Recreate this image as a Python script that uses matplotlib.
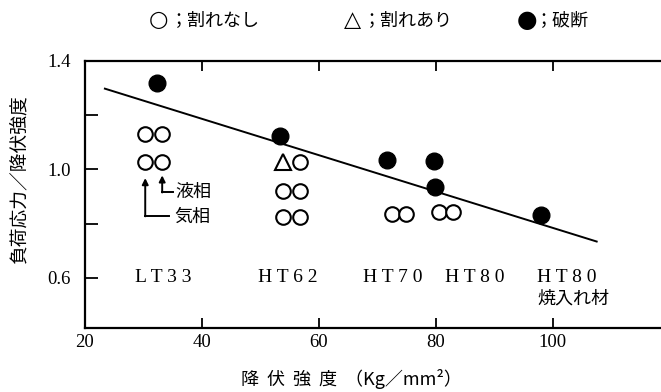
import matplotlib
matplotlib.use("Agg")
import matplotlib.pyplot as plt

# ---- data ----
# open circles : no cracking
none_x = [30.3, 33.2, 30.3, 33.2, 56.8, 53.8, 56.8, 53.8, 56.8, 72.5, 74.9, 80.5, 82.9]
none_y = [1.131, 1.131, 1.028, 1.028, 1.028, 0.922, 0.922, 0.823, 0.823, 0.837, 0.837, 0.844, 0.844]
# triangle : cracked
crack_x = [53.8]
crack_y = [1.028]
# filled circles : fracture
frac_x = [32.3, 53.3, 71.6, 79.7, 79.8, 97.9]
frac_y = [1.32, 1.124, 1.035, 1.032, 0.936, 0.833]
# regression line
line_x = [23.4, 107.5]
line_y = [1.298, 0.734]

steel_names = ["L T 3 3", "H T 6 2", "H T 7 0", "H T 8 0", "H T 8 0"]
steel_notes = ["", "", "", "", "焼入れ材"]
steel_x = [33.3, 54.7, 72.6, 86.7, 102.4]
steel_y = 0.60

xticks = [20, 40, 60, 80, 100]
xticklabels = ["20", "40", "60", "80", "100"]
yticks = [0.6, 0.8, 1.0, 1.2, 1.4]
yticklabels = ["0.6", "", "1.0", "", "1.4"]

jp = ["Noto Sans CJK JP", "DejaVu Sans"]
serif = "Liberation Serif"

fig = plt.figure(figsize=(6.61, 3.92), dpi=100)
ax = fig.add_axes([85/661, 1-328/392, 1-85/661, (328-61)/392])
ax.set_xlim(20, 118.5)
ax.set_ylim(0.415, 1.4)

ax.plot(line_x, line_y, color="black", lw=1.4, zorder=2)
ax.plot(none_x, none_y, ls="none", marker="o", ms=10.5, mfc="white",
        mec="black", mew=1.5, zorder=3)
ax.plot(crack_x, crack_y, ls="none", marker="^", ms=11, mfc="white",
        mec="black", mew=1.5, zorder=3)
ax.plot(frac_x, frac_y, ls="none", marker="o", ms=12, mfc="black",
        mec="black", zorder=4)

for name, note, x in zip(steel_names, steel_notes, steel_x):
    ax.text(x, steel_y, name, ha="center", va="center", fontsize=14,
            family=serif)
    if note:
        ax.text(x + 1.2, steel_y - 0.078, note, ha="center", va="center",
                fontsize=13, family=jp)

# arrows for 液相 / 気相
ax.annotate("", xy=(33.2, 0.978), xytext=(33.2, 0.915),
            arrowprops=dict(arrowstyle="-|>", color="black", lw=1.4,
                            mutation_scale=9, shrinkA=0, shrinkB=0))
ax.plot([33.2, 35.0], [0.918, 0.918], color="black", lw=1.4)
ax.annotate("", xy=(30.3, 0.968), xytext=(30.3, 0.827),
            arrowprops=dict(arrowstyle="-|>", color="black", lw=1.4,
                            mutation_scale=9, shrinkA=0, shrinkB=0))
ax.plot([30.3, 34.3], [0.830, 0.830], color="black", lw=1.4)
ax.text(35.5, 0.918, "液相", ha="left", va="center", fontsize=13, family=jp)
ax.text(35.3, 0.825, "気相", ha="left", va="center", fontsize=13, family=jp)

# axes styling
for s in ["left", "bottom", "top"]:
    ax.spines[s].set_linewidth(1.6)
ax.spines["right"].set_visible(False)
ax.set_xticks(xticks)
ax.set_xticklabels(xticklabels, family=serif, fontsize=13.5)
ax.set_yticks(yticks)
ax.set_yticklabels(yticklabels, family=serif, fontsize=13.5)
ax.tick_params(axis="x", direction="in", length=7, width=1.3, pad=4,
               top=True)
ax.tick_params(axis="y", direction="in", length=9, width=1.3, pad=10)
ax.set_ylim(0.415, 1.4)

ax.set_ylabel("負荷応力／降伏強度", family=jp, fontsize=13.5)
ax.yaxis.set_label_coords(-0.096, 0.554)
ax.set_xlabel("降  伏  強  度  （Kg／mm²）", family=jp, fontsize=13)
ax.xaxis.set_label_coords(0.462, -0.155)

# legend line at top
ly = 1 - 20/392
fig.text(158/661, ly, "○", ha="center", va="center", fontsize=16,
         family="DejaVu Sans")
fig.text(170/661, ly, "；割れなし", ha="left", va="center",
         fontsize=13, family=jp)
fig.text(352/661, ly, "△", ha="center", va="center", fontsize=16,
         family="DejaVu Sans")
fig.text(363/661, ly, "；割れあり", ha="left", va="center",
         fontsize=13, family=jp)
fig.text(527/661, ly, "●", ha="center", va="center", fontsize=17,
         family="DejaVu Sans")
fig.text(535/661, ly, "；破断", ha="left", va="center",
         fontsize=13, family=jp)

fig.savefig("out.png", dpi=100)
